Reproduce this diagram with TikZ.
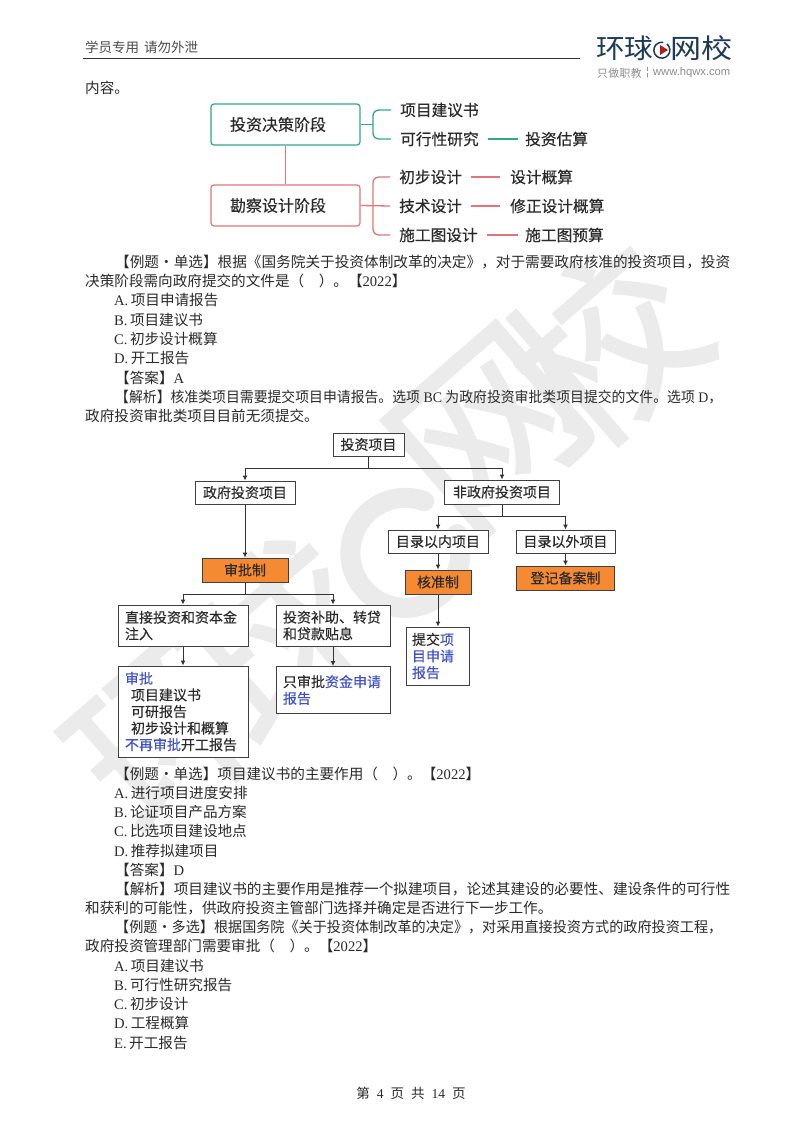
\documentclass[tikz,border=0pt]{standalone}
\usepackage{fontspec}
\setmainfont{Noto Sans CJK SC}
\newfontfamily\lat{Liberation Serif}
\newfontfamily\logolat{Liberation Sans}
\newfontfamily\dgf[FakeBold=0.25]{Noto Sans CJK SC}
\usetikzlibrary{arrows.meta,calc}
\definecolor{txt}{HTML}{2A2A2A}
\definecolor{grn}{HTML}{2FA98C}
\definecolor{rd}{HTML}{E0757C}
\definecolor{org}{HTML}{F58A33}
\definecolor{blu}{HTML}{3F51C8}
\definecolor{wm}{HTML}{EBEBEB}
\definecolor{navy}{HTML}{1E3A5A}
\newcommand{\dotc}{\makebox[1em]{·}}
\newcommand{\fitw}[2]{\resizebox{#1pt}{\height}{#2}}
\tikzset{
 x=1pt,y=-1pt,
 body/.style={anchor=west,inner sep=0pt,text=txt,font=\fontsize{14.6}{16}\selectfont},
 stage/.style={rounded corners=3pt,draw,line width=1.2pt,minimum width=149pt,minimum height=41pt,inner sep=0pt,text width=111pt,align=left,font=\dgf\fontsize{16}{18}\selectfont,text=txt},
 lab/.style={anchor=west,inner sep=0pt,text=txt,font=\dgf\fontsize{15.7}{18}\selectfont},
 wmk/.style={rotate=41,text=wm,inner sep=0pt,font=\addfontfeature{FakeBold=1.2}\fontsize{185}{185}\selectfont},
 bx/.style={draw=black!75,line width=1pt,fill=white,inner sep=0pt,text=txt,font=\dgf\fontsize{14}{16.6}\selectfont},
 hot/.style={bx,fill=org},
 arr/.style={draw=black!80,line width=1pt,-{Latex[length=5pt,width=5pt]}},
 ln/.style={draw=black!80,line width=1pt},
 gline/.style={grn,line width=1.3pt},
 rline/.style={rd,line width=1.3pt}
}
\begin{document}
\begin{tikzpicture}
\useasboundingbox (0,0) rectangle (800,1132);
\fill[white] (0,0) rectangle (800,1132);
% watermark
\node[wmk] (w1) at (170,735) {环};
\node[wmk] (w2) at (280,640) {球};
\draw[wm,line width=20pt,line cap=round] (457,534) arc[start angle=20,end angle=-290,radius=55pt];
\node[wmk] (w3) at (490,430) {网};
\node[wmk] (w4) at (605,345) {校};
% header
\node[anchor=west,inner sep=0pt,text=black!70,font=\fontsize{13.5}{15}\selectfont] (hd) at (85,47) {学员专用\hspace{5pt}请勿外泄};
\draw[black!80,line width=1pt] (83,59) -- (580,59);
\node[anchor=west,inner sep=0pt,text=navy,font=\fontsize{27}{30}\selectfont] (lg1) at (596,48) {\scalebox{1.06}[1]{环球}};
\node[anchor=west,inner sep=0pt,text=navy,font=\fontsize{27}{30}\selectfont] (lg2) at (670,48) {\scalebox{1.15}[1]{网校}};
\draw[navy,line width=1.5pt] (667,44) arc[start angle=50,end angle=-280,radius=8pt];
\fill[red!70!black!90] (660,45) -- (668,50) -- (660,55) -- cycle;
\node[anchor=west,inner sep=0pt,text=black!45,font=\fontsize{10.8}{12}\selectfont] (lg3) at (597,73) {\addfontfeature{LetterSpace=4}只做职教};
\node[anchor=west,inner sep=0pt,text=black!45,font=\logolat\fontsize{11.2}{12}\selectfont] (lg4) at (646,73) {¦\hspace{4pt}www.hqwx.com};
\node[body] (t0) at (85,88) {内容。};
% diagram 1
\node[stage,draw=grn] (s1) at (285.5,124.5) {投资决策阶段};
\node[stage,draw=rd] (s2) at (285.5,205.5) {勘察设计阶段};
\draw[rline] (s1.south) -- (s2.north);
\node[lab] (a1) at (400,110) {项目建议书};
\node[lab] (a2) at (400,139) {可行性研究};
\node[lab] (a3) at (525,139) {投资估算};
\node[lab] (b1) at (399,177) {初步设计};
\node[lab] (b2) at (510,177) {设计概算};
\node[lab] (c1) at (399,206) {技术设计};
\node[lab] (c2) at (510,206) {修正设计概算};
\node[lab] (d1) at (399,235) {施工图设计};
\node[lab] (d2) at (525,235) {施工图预算};
\coordinate (gj) at (373,124.5);
\coordinate (rj) at (373,206);
\draw[gline] (s1.east) -- (gj);
\draw[gline,rounded corners=6pt] (a1.west)++(-9,0) -- (373,110) -- (gj) -- (373,139) -- ($(a2.west)+(-9,0)$);
\draw[gline] (a2.east)++(9,0) -- (518,139);
\draw[rline] (s2.east) -- ($(c1.west)+(-9,0)$);
\draw[rline,rounded corners=6pt] (b1.west)++(-9,0) -- (373,177) -- (rj) -- (373,235) -- ($(d1.west)+(-9,0)$);
\draw[rline] (b1.east)++(9,0) -- (500,177);
\draw[rline] (c1.east)++(9,0) -- (500,206);
\draw[rline] (d1.east)++(9,0) -- (518,235);
% text block 1
\node[body] (t1) at (115,262) {\fitw{615}{【例题\dotc 单选】根据《国务院关于投资体制改革的决定》，对于需要政府核准的投资项目，投资}};
\node[body] (t2) at (85,281) {决策阶段需向政府提交的文件是（\hspace{1em}）。【{\lat 2022}】};
\node[body] (t3) at (114,300) {{\lat A.\,}项目申请报告};
\node[body] (t4) at (114,320) {{\lat B.\,}项目建议书};
\node[body] (t5) at (114,339) {{\lat C.\,}初步设计概算};
\node[body] (t6) at (114,358) {{\lat D.\,}开工报告};
\node[body] (t7) at (115,378) {【答案】{\lat A}};
\node[body] (t8) at (115,397) {\fitw{607}{【解析】核准类项目需要提交项目申请报告。选项{\lat\ BC\ }为政府投资审批类项目提交的文件。选项{\lat\ D}，}};
\node[body] (t9) at (85,416) {政府投资审批类项目目前无须提交。};
% diagram 2
\node[bx,minimum width=71pt,minimum height=23pt] (root) at (368.5,444.5) {投资项目};
\node[bx,minimum width=100pt,minimum height=23pt] (gov) at (245,492.5) {政府投资项目};
\node[bx,minimum width=115pt,minimum height=24pt] (ngov) at (502,492) {非政府投资项目};
\node[hot,minimum width=86pt,minimum height=24pt] (sp) at (245,570) {审批制};
\node[bx,minimum width=130pt,minimum height=41pt,align=left,text width=116pt] (zj) at (183,625.5) {直接投资和资本金\\注入};
\node[bx,minimum width=114pt,minimum height=41pt,align=left,text width=100pt] (bz) at (333,625.5) {投资补助、转贷\\和贷款贴息};
\node[bx,minimum width=130pt,minimum height=91pt,align=left,text width=116pt] (sq) at (183,711.5) {\textcolor{blu}{审批}\\\hspace{6pt}项目建议书\\\hspace{6pt}可研报告\\\hspace{6pt}初步设计和概算\\\textcolor{blu}{不再审批}开工报告};
\node[bx,minimum width=114pt,minimum height=47pt,align=left,text width=100pt,anchor=north] (zs) at (333,666) {只审批\textcolor{blu}{资金申请}\\\textcolor{blu}{报告}\\[12pt]};
\node[bx,minimum width=100pt,minimum height=23pt] (in) at (438,541.5) {目录以内项目};
\node[bx,minimum width=99pt,minimum height=23pt] (out) at (565.5,541.5) {目录以外项目};
\node[hot,minimum width=66pt,minimum height=24pt] (hz) at (438,582) {核准制};
\node[hot,minimum width=98pt,minimum height=24pt] (dj) at (565.5,578) {登记备案制};
\node[bx,minimum width=63pt,minimum height=58pt,align=left,text width=52pt] (tj) at (438,656) {提交\textcolor{blu}{项}\\\textcolor{blu}{目申请}\\\textcolor{blu}{报告}};
\coordinate (j1) at (368.5,468);
\coordinate (j2) at (245,594);
\coordinate (j3) at (502,516);
\draw[ln] (root.south) -- (j1);
\draw[arr] (j1) -| (gov.north);
\draw[arr] (j1) -| (ngov.north);
\draw[arr] (gov.south) -- (sp.north);
\draw[ln] (sp.south) -- (j2);
\draw[arr] (j2) -| (zj.north);
\draw[arr] (j2) -| (bz.north);
\draw[arr] (zj.south) -- (sq.north);
\draw[arr] (bz.south) -- (zs.north);
\draw[ln] (ngov.south) -- (j3);
\draw[arr] (j3) -| (in.north);
\draw[arr] (j3) -| (out.north);
\draw[arr] (in.south) -- (hz.north);
\draw[arr] (out.south) -- (dj.north);
\draw[arr] (hz.south) -- (tj.north);
% text block 2
\node[body] (u1) at (115,774) {【例题\dotc 单选】项目建议书的主要作用（\hspace{1em}）。【{\lat 2022}】};
\node[body] (u2) at (114,793) {{\lat A.\,}进行项目进度安排};
\node[body] (u3) at (114,812) {{\lat B.\,}论证项目产品方案};
\node[body] (u4) at (114,831) {{\lat C.\,}比选项目建设地点};
\node[body] (u5) at (114,851) {{\lat D.\,}推荐拟建项目};
\node[body] (u6) at (115,870) {【答案】{\lat D}};
\node[body] (u7) at (115,889) {\fitw{615}{【解析】项目建议书的主要作用是推荐一个拟建项目，论述其建设的必要性、建设条件的可行性}};
\node[body] (u8) at (85,908) {和获利的可能性，供政府投资主管部门选择并确定是否进行下一步工作。};
\node[body] (u9) at (115,927) {\fitw{607}{【例题\dotc 多选】根据国务院《关于投资体制改革的决定》，对采用直接投资方式的政府投资工程，}};
\node[body] (u10) at (85,946) {政府投资管理部门需要审批（\hspace{1em}）。【{\lat 2022}】};
\node[body] (u11) at (114,966) {{\lat A.\,}项目建议书};
\node[body] (u12) at (114,985) {{\lat B.\,}可行性研究报告};
\node[body] (u13) at (114,1004) {{\lat C.\,}初步设计};
\node[body] (u14) at (114,1023) {{\lat D.\,}工程概算};
\node[body] (u15) at (114,1043) {{\lat E.\,}开工报告};
\node[inner sep=0pt,text=txt,font=\fontsize{13.5}{15}\selectfont] (ft) at (411,1093) {第\hspace{7pt}{\lat 4}\hspace{7pt}页\hspace{7pt}共\hspace{7pt}{\lat 14}\hspace{7pt}页};
\end{tikzpicture}
\end{document}
